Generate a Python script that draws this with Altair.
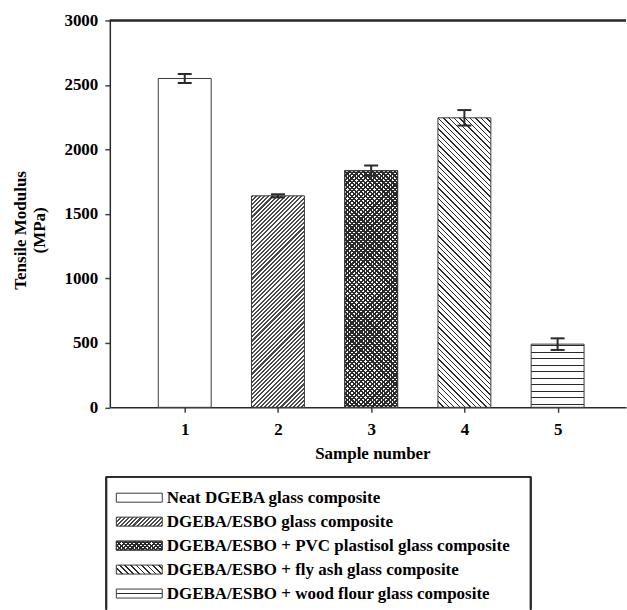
import math
import altair as alt
import pandas as pd

# ---------------- data ----------------
samples = [1, 2, 3, 4, 5]
modulus = [2550, 1640, 1835, 2245, 490]
errors = [35, 12, 40, 60, 45]
legend_labels = [
    "Neat DGEBA glass composite",
    "DGEBA/ESBO glass composite",
    "DGEBA/ESBO + PVC plastisol glass composite",
    "DGEBA/ESBO + fly ash glass composite",
    "DGEBA/ESBO + wood flour glass composite",
]
y_ticks = [0, 500, 1000, 1500, 2000, 2500, 3000]
x_ticks = [1, 2, 3, 4, 5]

# ---------------- layout / style ----------------
W, H = 517, 387.5
YMAX = 3000
XDOM = [0.25, 5.68]
BAR_W = 53
LEG_W, LEG_H = 425, 133
FONT = "Liberation Serif"
DARK = "#2a2a2a"
MID = "#4a4a4a"
LIGHT = "#ffffff"
CLEAR = "rgba(255,255,255,0)"
NS = 256  # gradient resolution: stops placed on a 1/256 grid

px_per_unit = H / YMAX


def grid_stops(period_s, dark_s, dark, light):
    """stripes on a 1/256 grid: period and dark width given in grid steps"""
    pts = [(0, light)]
    s = 0
    while s < NS:
        a, b = s, min(s + dark_s, NS)
        pts += [(a, light), (a, dark), (b, dark), (b, light)]
        s += period_s
    pts.append((NS, light))
    return [{"offset": round(o / NS, 6), "color": c} for o, c in pts]


def steps_for(length_px, period_px):
    return max(2, int(round(period_px * NS / length_px)))


def diag(w, h, period_px, frac, direction, dark=DARK, light=LIGHT):
    L = w + h
    a = w * L / (w * w + h * h)
    b = h * L / (w * w + h * h)
    p = steps_for(L, period_px)
    d = max(1, int(round(p * frac)))
    stops = grid_stops(p, d, dark, light)
    if direction == "fwd":
        return {"gradient": "linear", "x1": 0, "y1": 0, "x2": a, "y2": b, "stops": stops}
    return {"gradient": "linear", "x1": 0, "y1": 1, "x2": a, "y2": 1 - b, "stops": stops}


def horiz(h, period, lw, off, dark=DARK, light=LIGHT):
    pts = [(0.0, light)]
    centers = []
    c = h - off
    while c > 0:
        centers.append(c)
        c -= period
    for c in sorted(centers):
        a, b = max(c - lw / 2, 0), min(c + lw / 2, h)
        pts += [(a, light), (a, dark), (b, dark), (b, light)]
    pts.append((h, light))
    stops = [{"offset": round(min(max(o / h, 0), 1), 5), "color": col} for o, col in pts]
    return {"gradient": "linear", "x1": 0, "y1": 0, "x2": 0, "y2": 1, "stops": stops}


def fills(kind, w, h, small=False):
    """list of fill layers (bottom first) for a pattern kind"""
    if kind == "none":
        return [LIGHT]
    if kind == "fwd":
        return [diag(w, h, 4.0, 0.5, "fwd", MID)]
    if kind == "cross":
        return [diag(w, h, 4.4, 0.5, "fwd"), diag(w, h, 4.4, 0.5, "back", DARK, CLEAR)]
    if kind == "back":
        return [diag(w, h, 5.6, 0.3, "back")]
    if kind == "horiz":
        if small:
            return [horiz(h, 100, 1.2, h / 2)]
        return [horiz(h, 6.5, 1.2, 3.2)]


kinds = ["none", "fwd", "cross", "back", "horiz"]

df = pd.DataFrame({"sample": samples, "modulus": modulus, "err": errors})
df["lo"] = df["modulus"] - df["err"]
df["hi"] = df["modulus"] + df["err"]

xscale = alt.Scale(domain=XDOM, nice=False, zero=False)
yscale = alt.Scale(domain=[0, YMAX], nice=False)

xaxis = alt.Axis(values=x_ticks, title="Sample number", titleX=263, titlePadding=8,
                 labelPadding=9, grid=False, format="d")
yaxis = alt.Axis(values=y_ticks, title=["Tensile Modulus", "(MPa)"], titleX=-89,
                 titleY=H / 2 + 16, titleAngle=-90, titleBaseline="middle",
                 titleAlign="center", titleLineHeight=19, labelPadding=7, grid=False,
                 format="d")

X = alt.X("sample:Q", scale=xscale, axis=xaxis)

layers = []
for s, v, kind in zip(samples, modulus, kinds):
    h = v * px_per_unit
    for f in fills(kind, BAR_W, h):
        layers.append(
            alt.Chart(df)
            .transform_filter(alt.datum.sample == s)
            .mark_bar(orient="vertical", size=BAR_W, fill=f, stroke="#3a3a3a",
                      strokeWidth=1, opacity=1)
            .encode(x=X, y=alt.Y("modulus:Q", scale=yscale, axis=yaxis))
        )

stems = alt.Chart(df).mark_rule(color=DARK, strokeWidth=2).encode(
    x=X, y=alt.Y("lo:Q", scale=yscale, axis=yaxis), y2="hi:Q")
caps_hi = alt.Chart(df).mark_tick(orient="horizontal", size=14, thickness=2,
                                  color=DARK, opacity=1).encode(
    x=X, y=alt.Y("hi:Q", scale=yscale, axis=yaxis))
caps_lo = alt.Chart(df).mark_tick(orient="horizontal", size=14, thickness=2,
                                  color=DARK, opacity=1).encode(
    x=X, y=alt.Y("lo:Q", scale=yscale, axis=yaxis))
top_border = alt.Chart(df).mark_rule(color=DARK, strokeWidth=1.5).encode(
    y=alt.Y(datum=YMAX, scale=yscale, axis=yaxis))

main = alt.layer(*layers, stems, caps_hi, caps_lo, top_border).properties(width=W, height=H)

# ---------------- legend ----------------
leg_df = pd.DataFrame({"label": legend_labels, "kind": kinds})
yleg = alt.Y("label:N", sort=legend_labels,
             scale=alt.Scale(type="point", range=[21, 117], padding=0), axis=None)
SW_W, SW_H = 46, 9
leg_layers = []
for lab, kind in zip(legend_labels, kinds):
    for f in fills(kind, SW_W, SW_H, small=True):
        leg_layers.append(
            alt.Chart(leg_df)
            .transform_filter(alt.datum.label == lab)
            .mark_tick(orient="horizontal", size=SW_W, thickness=SW_H, fill=f,
                       stroke="#3a3a3a", strokeWidth=1, opacity=1)
            .encode(x=alt.value(29.5), y=yleg)
        )
leg_text = alt.Chart(leg_df).mark_text(align="left", baseline="middle", font=FONT,
                                       fontSize=17, fontWeight="bold", color="black").encode(
    x=alt.value(57), y=yleg, text="label:N")
frame_top = alt.Chart(leg_df).mark_rule(color=DARK, strokeWidth=1.5).encode(
    x=alt.value(-3.5), x2=alt.value(421.5), y=alt.value(0))
frame_left = alt.Chart(leg_df).mark_rule(color=DARK, strokeWidth=1.5).encode(
    x=alt.value(-3.5), y=alt.value(0), y2=alt.value(LEG_H))
frame_right = alt.Chart(leg_df).mark_rule(color=DARK, strokeWidth=1.5).encode(
    x=alt.value(421.5), y=alt.value(0), y2=alt.value(LEG_H))

legend = alt.layer(*leg_layers, leg_text, frame_top, frame_left, frame_right).properties(
    width=LEG_W, height=LEG_H)

chart = (
    alt.vconcat(main, legend, spacing=69, bounds="flush")
    .properties(padding={"left": 12, "top": 11, "right": 0, "bottom": 0}, background="white")
    .configure_view(stroke=None)
    .configure_axis(
        labelFont=FONT, labelFontSize=17, labelFontWeight="bold", labelColor="black",
        titleFont=FONT, titleFontSize=17, titleFontWeight="bold", titleColor="black",
        domainColor=DARK, domainWidth=1.5, tickColor="#444", tickWidth=1.5, tickSize=5,
    )
)

chart.save("out.html", embed_options={"renderer": "svg", "actions": False})
